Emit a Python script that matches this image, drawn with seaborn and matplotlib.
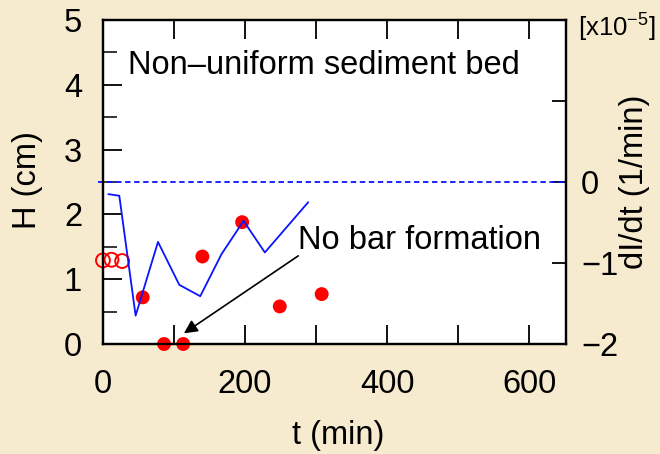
import matplotlib
matplotlib.use("Agg")
import matplotlib.pyplot as plt
from matplotlib.ticker import FixedLocator, FixedFormatter, MultipleLocator
import seaborn as sns

# Bar height H (cm) for each run, and the initial-bed readings (open symbols)
t_bar = [56, 86, 113, 140, 196, 249, 308]
h_bar = [0.72, 0.0, 0.0, 1.35, 1.88, 0.58, 0.77]
t_init = [0, 12, 27]
h_init = [1.29, 1.30, 1.28]

# Rate of change dI/dt (x1e-5 1/min)
t_rate = [7.5, 23, 46, 77.5, 107.5, 137, 167, 198, 228, 289]
rate = [-0.15, -0.17, -1.65, -0.74, -1.27, -1.41, -0.89, -0.48, -0.87, -0.25]

x_ticks = [0, 100, 200, 300, 400, 500, 600]
x_labels = ["0", "", "200", "", "400", "", "600"]
r_ticks = [-2, -1, 0, 1, 2]
r_labels = ["\u22122", "\u22121", "0", "", ""]

sns.set_theme(style="ticks")
plt.rcParams["font.family"] = ["Liberation Sans", "DejaVu Sans"]
plt.rcParams["mathtext.fontset"] = "custom"
plt.rcParams["mathtext.rm"] = "Liberation Sans"
plt.rcParams["text.color"] = "black"
plt.rcParams["axes.labelcolor"] = "black"

FS = 23.5
bg = "#f7ebcf"
fig = plt.figure(figsize=(6.6, 4.54), dpi=100, facecolor=bg)
ax = fig.add_axes([0.156, 0.2423, 0.7015, 0.7137])
ax.set_facecolor("white")
ax2 = ax.twinx()

# H data
sns.scatterplot(x=t_bar, y=h_bar, ax=ax, color="#ff0000", s=100,
                edgecolor="none", clip_on=False, zorder=5)
sns.scatterplot(x=t_init, y=h_init, ax=ax, facecolor="none",
                edgecolor="#ff0000", linewidth=1.4, s=100, clip_on=False, zorder=5)

# dI/dt data
sns.lineplot(x=t_rate, y=rate, ax=ax2, color="#0a14ff", lw=1.3, sort=False)
ax2.axhline(0, color="#0a14ff", lw=1.3, ls=(0, (3, 2)), clip_on=False, xmin=-0.01)

ax.set_xlim(0, 652)
ax.set_ylim(0, 5)
ax2.set_ylim(-2, 2)

ax.xaxis.set_major_locator(FixedLocator(x_ticks))
ax.xaxis.set_major_formatter(FixedFormatter(x_labels))
ax.yaxis.set_major_locator(MultipleLocator(1))
ax.yaxis.set_minor_locator(MultipleLocator(0.5))
ax2.yaxis.set_major_locator(FixedLocator(r_ticks))
ax2.yaxis.set_major_formatter(FixedFormatter(r_labels))

ax.tick_params(axis="x", which="major", direction="in", length=14, width=1.3,
               top=True, labelsize=FS, pad=18, colors="black")
ax.tick_params(axis="y", which="major", direction="in", length=14, width=1.3,
               right=False, labelsize=FS, pad=15, colors="black")
ax.tick_params(axis="y", which="minor", direction="in", length=10, width=1.3,
               right=False)
ax2.tick_params(axis="y", which="major", direction="in", length=10, width=1.3,
                labelsize=FS, pad=11, colors="black")
ax2.tick_params(axis="y", which="minor", right=False, left=False)

for a in (ax, ax2):
    for s in a.spines.values():
        s.set_linewidth(1.6)
        s.set_color("black")
        s.set_visible(True)

ax.set_xlabel("t (min)", fontsize=FS, color="black")
ax.set_ylabel("H (cm)", fontsize=FS, color="black")
ax2.set_ylabel("dI/dt (1/min)", fontsize=FS, color="black")
ax.xaxis.set_label_coords(0.508, -0.235)
ax.yaxis.set_label_coords(-0.13, 0.506)
ax2.yaxis.set_label_coords(1.115, 0.5)

ax.text(35, 4.3, "Non\u2013uniform sediment bed", fontsize=FS, ha="left",
        va="center", color="black")
ax.text(275, 1.6, "No bar formation", fontsize=FS, ha="left", va="center",
        color="black")
ax.annotate("", xy=(114, 0.165), xytext=(275, 1.36),
            arrowprops=dict(arrowstyle="-|>", color="black", lw=1.2,
                            mutation_scale=20, shrinkA=0, shrinkB=0))

fig.text(578 / 660, 1 - 27 / 454, r"[x10$^{\mathrm{-5}}$]", fontsize=18.5,
         ha="left", va="center", color="black")

fig.savefig("out.png", dpi=100, facecolor=bg)
